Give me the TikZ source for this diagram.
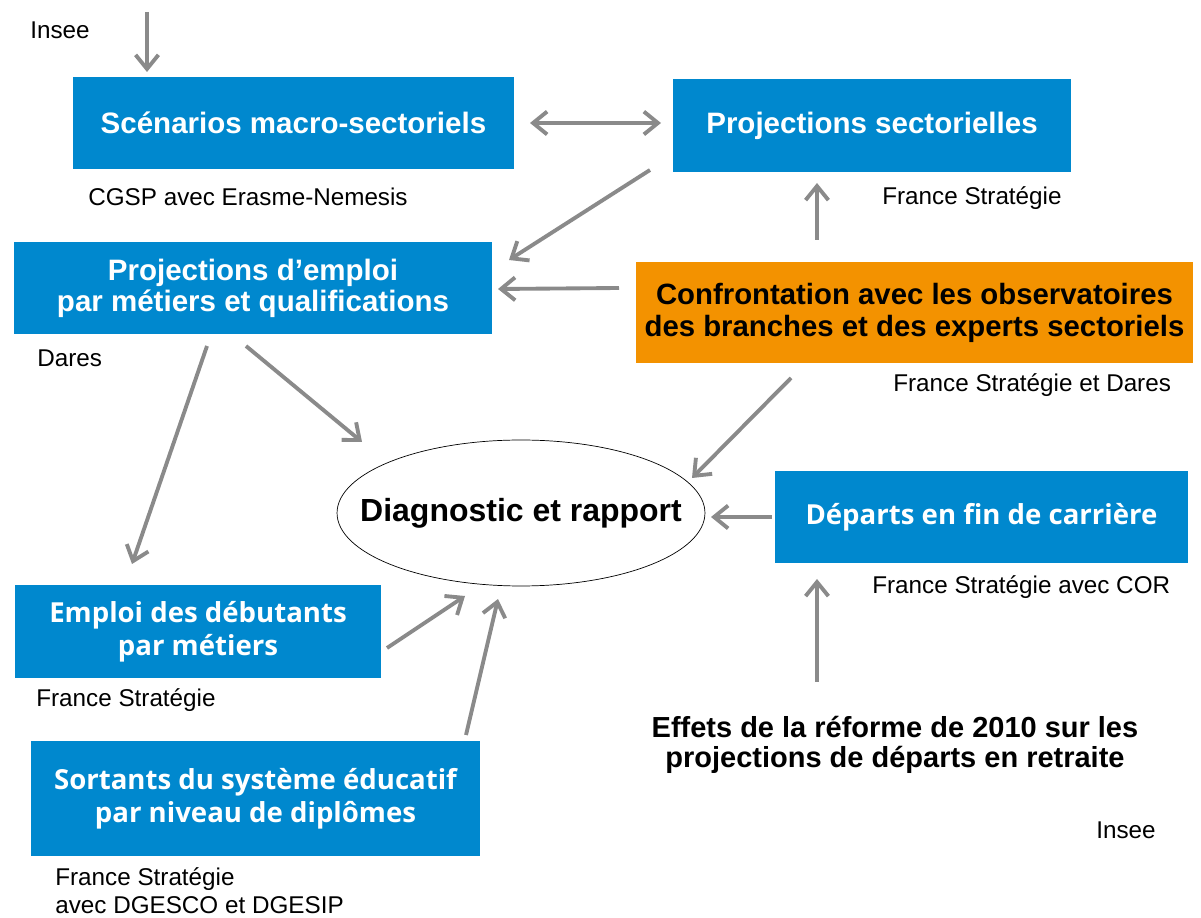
\documentclass[tikz,border=0pt]{standalone}
\usepackage{fontspec}
\setmainfont{Liberation Sans}
\newfontfamily\boitefont{Open Sans}
\usepackage{tikz}
\usetikzlibrary{arrows.meta}
\definecolor{BleuBoite}{RGB}{0,136,206}
\definecolor{OrangeBoite}{RGB}{243,146,0}
\definecolor{GrisFleche}{RGB}{138,138,138}

\begin{document}
\begin{tikzpicture}[x=0.02cm,y=-0.02cm,
  fleche/.style={-{Straight Barb[length=8pt,width=13pt]},line width=2.2pt,GrisFleche},
  boite/.style={fill=BleuBoite,text=white,align=center,inner sep=0pt,font=\fontsize{16.8}{17.5}\selectfont\bfseries},
  boiteb/.style={boite,font=\boitefont\fontsize{15.7}{18.5}\selectfont\bfseries},
  source/.style={anchor=west,inner sep=0pt,align=left,font=\fontsize{13.8}{15.9}\selectfont}]
  \useasboundingbox (0,0) rectangle (1201,918);
  \node[boite,minimum width=8.82cm,minimum height=1.84cm] (scen) at (293.5,123) {Scénarios macro-sectoriels};
  \node[boite,minimum width=7.96cm,minimum height=1.86cm] (projsect) at (872,125.5) {Projections sectorielles};
  \node[boite,minimum width=9.56cm,minimum height=1.84cm] (projemp) at (253,288) {Projections d’emploi\\par métiers et qualifications};
  \node[boite,fill=OrangeBoite,text=black,minimum width=11.14cm,minimum height=2.02cm,
        font=\fontsize{16.7}{18.2}\selectfont\bfseries] (confr) at (914.5,312.5) {Confrontation avec les observatoires\\des branches et des experts sectoriels};
  \node[boiteb,minimum width=8.26cm,minimum height=1.84cm] (departs) at (981.5,517) {Départs en fin de carrière};
  \node[boiteb,minimum width=7.32cm,minimum height=1.86cm] (emploi) at (198,631.5) {Emploi des débutants\\par métiers};
  \node[boiteb,minimum width=8.98cm,minimum height=2.3cm] (sortants) at (255.5,798.5) {Sortants du système éducatif\\par niveau de diplômes};
  \node[font=\fontsize{18.2}{20}\selectfont\bfseries] (diag) at (521,513) {Diagnostic et rapport};
  \draw[thin] (diag.center) ellipse [x radius=3.68cm, y radius=1.46cm];
  \node[align=center,font=\fontsize{16.5}{17}\selectfont\bfseries] (effets) at (895,745) {Effets de la réforme de 2010 sur les\\projections de départs en retraite};
  \node[source] (insee1) at (30,30) {Insee};
  \node[source] (cgsp) at (88,197) {CGSP avec Erasme-Nemesis};
  \node[source] (fs1) at (882,198) {France Stratégie};
  \node[source] (dares) at (37,358) {Dares};
  \node[source] (fsd) at (893,385) {France Stratégie et Dares};
  \node[source] (fscor) at (872,587) {France Stratégie avec COR};
  \node[source] (fs2) at (36,700) {France Stratégie};
  \node[source,anchor=north west] (fsdg) at (55,867) {France Stratégie\\avec DGESCO et DGESIP};
  \node[source] (insee2) at (1096,830) {Insee};
  \coordinate (inseeA) at (147,12);
  \coordinate (scenN) at (147,72);
  \coordinate (scenE) at (530,123);
  \coordinate (sectW) at (661,123);
  \coordinate (sectS) at (817,183);
  \coordinate (confrN) at (817,240);
  \coordinate (sectSW) at (650,170);
  \coordinate (empNE) at (509,260);
  \coordinate (confrW) at (619,288);
  \coordinate (empE) at (498,289);
  \coordinate (empS1) at (207,346);
  \coordinate (emploiN) at (132,564);
  \coordinate (empS2) at (246,346);
  \coordinate (diagNW) at (362,442);
  \coordinate (confrS) at (791,378);
  \coordinate (diagNE) at (692,478);
  \coordinate (departsW) at (772,517);
  \coordinate (diagE) at (711,517);
  \coordinate (effetsN) at (817,682);
  \coordinate (departsS) at (817,579);
  \coordinate (emploiE) at (387,648);
  \coordinate (diagSW) at (465,596);
  \coordinate (sortantsN) at (466,735);
  \coordinate (diagS) at (498,599);
  \draw[fleche] (inseeA) -- (scenN);
  \draw[fleche,{Straight Barb[length=8pt,width=13pt]}-{Straight Barb[length=8pt,width=13pt]}] (scenE) -- (sectW);
  \draw[fleche] (confrN) -- (sectS);
  \draw[fleche] (sectSW) -- (empNE);
  \draw[fleche] (confrW) -- (empE);
  \draw[fleche] (empS1) -- (emploiN);
  \draw[fleche] (empS2) -- (diagNW);
  \draw[fleche] (confrS) -- (diagNE);
  \draw[fleche] (departsW) -- (diagE);
  \draw[fleche] (effetsN) -- (departsS);
  \draw[fleche] (emploiE) -- (diagSW);
  \draw[fleche] (sortantsN) -- (diagS);
\end{tikzpicture}
\end{document}
